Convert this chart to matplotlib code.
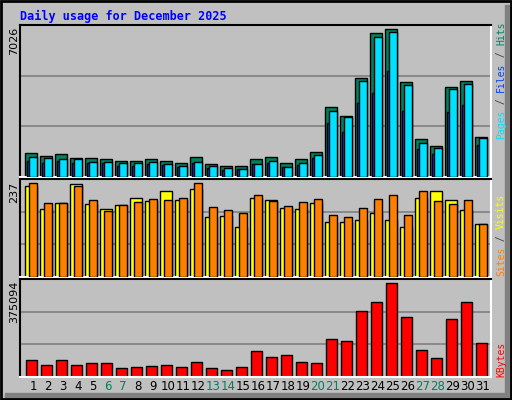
import matplotlib
matplotlib.use("Agg")
import matplotlib.pyplot as plt
from matplotlib.patches import Rectangle

days = list(range(1, 32))
weekend = [6, 7, 13, 14, 20, 21, 27, 28]
hits = [1117, 977, 1070, 884, 884, 838, 744, 744, 838, 744, 651, 931, 605, 512, 512, 838,
        931, 651, 838, 1163, 3257, 2838, 4560, 6654, 6840, 4374, 1768, 1442, 4141, 4420, 1861]
files = [744, 651, 744, 651, 651, 651, 512, 512, 605, 558, 465, 651, 419, 326, 372, 605,
         651, 465, 558, 884, 2513, 2094, 3443, 3862, 4886, 3071, 1303, 1070, 3024, 3350, 1489]
pages = [931, 884, 838, 838, 698, 698, 651, 651, 698, 605, 512, 698, 512, 419, 372, 605,
         744, 465, 651, 1024, 3071, 2792, 4420, 6468, 6700, 4234, 1582, 1349, 4048, 4281, 1815]
visits = [220, 164, 178, 225, 176, 164, 173, 191, 183, 208, 186, 213, 144, 147, 120, 191,
          186, 166, 164, 178, 132, 134, 137, 154, 139, 122, 191, 208, 186, 161, 127]
sites = [227, 178, 178, 220, 186, 159, 173, 181, 188, 186, 191, 227, 169, 161, 154, 198,
         183, 171, 181, 188, 151, 144, 166, 188, 198, 151, 208, 183, 176, 186, 127]
kbytes = [66400, 46900, 66400, 46900, 54700, 54700, 35200, 39100, 43000, 46900, 39100, 58600,
          35200, 27300, 39100, 97700, 78100, 86000, 58600, 54700, 144600, 136700, 254000,
          285200, 359400, 230500, 101600, 74200, 222700, 285200, 128900]
max_hits, max_visits, max_kb = 7026, 237, 375094

W, H = 512, 400
fig = plt.figure(figsize=(W/100, H/100), dpi=100)
fig.patch.set_facecolor("#C0C0C0")
bg = fig.add_axes([0, 0, 1, 1]); bg.set_xlim(0, W); bg.set_ylim(H, 0); bg.axis("off")
bg.add_patch(Rectangle((505, 5), 5, 393, color="#808080"))
bg.add_patch(Rectangle((5, 393), 505, 5, color="#808080"))
bg.add_patch(Rectangle((1, 1), W-2, H-2, fill=False, ec="black", lw=2))

def ax_at(top, bottom):
    a = fig.add_axes([20/W, (H-bottom)/H, (491-20)/W, (bottom-top)/H])
    a.set_facecolor("#C0C0C0")
    a.set_xlim(1-13/15, 31+8/15)
    a.set_xticks([]); a.set_yticks([])
    for s in ["left", "top"]:
        a.spines[s].set_color("black"); a.spines[s].set_linewidth(1.5)
    for s in ["right", "bottom"]:
        a.spines[s].set_color("white"); a.spines[s].set_linewidth(1.5)
    return a

ec = dict(edgecolor="black", linewidth=1.0)
a1 = ax_at(25, 177)
a1.set_ylim(0, max_hits)
for g in [max_hits/3, 2*max_hits/3]:
    a1.axhline(g, color="#808080", lw=1.2, zorder=0)
a1.bar([d-0.55 for d in days], hits, width=0.8, align="edge", color="#00805C", **ec, zorder=2)
a1.bar([d-0.42 for d in days], files, width=0.3, align="edge", color="#0040FF", **ec, zorder=3)
a1.bar([d-0.27 for d in days], pages, width=0.53, align="edge", color="#00E0FF", **ec, zorder=4)

a2 = ax_at(179, 277)
a2.set_ylim(0, max_visits)
for g in [max_visits/3, 2*max_visits/3]:
    a2.axhline(g, color="#808080", lw=1.2, zorder=0)
a2.bar([d-0.55 for d in days], visits, width=0.8, align="edge", color="#FFFF00", **ec, zorder=2)
a2.bar([d-0.27 for d in days], sites, width=0.53, align="edge", color="#FF8000", **ec, zorder=3)

a3 = ax_at(279, 377)
a3.set_ylim(0, max_kb)
for g in [max_kb/3, 2*max_kb/3]:
    a3.axhline(g, color="#808080", lw=1.2, zorder=0)
a3.bar([d-0.47 for d in days], kbytes, width=0.73, align="edge", color="#FF0000", **ec, zorder=2)

for d in days:
    x = 20 + (d - (1-13/15)) * 15.0
    bg.text(x, 387, str(d), ha="center", va="center", fontsize=8.5,
            color="#00805C" if d in weekend else "black", family="DejaVu Sans")

bg.text(20, 16, "Daily usage for December 2025", color="#0000FF", fontsize=8.5,
        fontweight="bold", family="DejaVu Sans Mono", va="center", ha="left")

for txt, y in [("7026", 27), ("237", 182), ("375094", 281)]:
    bg.text(14, y, txt, rotation=90, ha="center", va="top", fontsize=8, family="DejaVu Sans")

cw = 5.85
def vlabel(parts, ybottom):
    n = 0
    for t, c in parts:
        bg.text(501, ybottom - n*cw, t, rotation=90, ha="center", va="bottom",
                color=c, fontsize=7, family="DejaVu Sans Mono")
        n += len(t)
vlabel([("Pages", "#00E0FF"), (" / ", "#404040"), ("Files", "#0040FF"),
        (" / ", "#404040"), ("Hits", "#00805C")], 139)
vlabel([("Sites", "#FF8000"), (" / ", "#404040"), ("Visits", "#FFFF00")], 276)
vlabel([("KBytes", "#FF0000")], 377)

fig.savefig("out.png", dpi=100, facecolor=fig.get_facecolor())
